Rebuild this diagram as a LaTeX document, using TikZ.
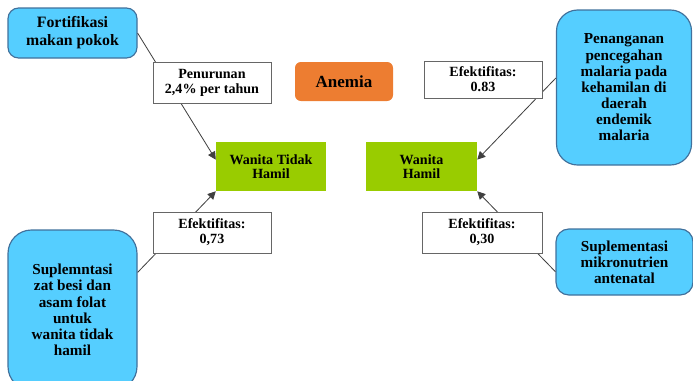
\documentclass[tikz,border=0pt]{standalone}
\usepackage{fontspec}
\setmainfont{Liberation Serif}
\usetikzlibrary{arrows.meta}
\definecolor{progblue}{RGB}{85,206,255}
\definecolor{progedge}{RGB}{65,113,156}
\definecolor{targetgreen}{RGB}{153,204,0}
\definecolor{anemiaorange}{RGB}{237,125,49}
\tikzset{
  basenode/.style = {align=center, inner sep=0pt, text centered},
  program/.style = {basenode, rectangle, fill=progblue, draw=progedge, line width=1pt, font=\bfseries\fontsize{13}{13.8}\selectfont},
  effect/.style = {basenode, rectangle, fill=white, draw=black!60, line width=0.8pt, minimum width=3.54cm, minimum height=1.23cm, font=\bfseries\fontsize{12}{12.8}\selectfont},
  target/.style = {basenode, rectangle, fill=targetgreen, minimum width=3.3cm, minimum height=1.47cm, font=\bfseries\fontsize{12}{12.2}\selectfont},
  link/.style = {draw=black!75, line width=0.7pt, -{Triangle[length=2.4mm,width=2.4mm]}},
}

\begin{document}
\begin{tikzpicture}
\useasboundingbox (0,0) rectangle (20.79,-11.4);
\clip (0,0) rectangle (20.79,-11.4);
% programs
\node [program, rounded corners=9pt, minimum width=3.87cm, minimum height=1.5cm, font=\bfseries\fontsize{13.5}{15.4}\selectfont] (fort) at (2.175,-0.99) {Fortifikasi\\makan pokok};
\node [program, rounded corners=20pt, minimum width=3.87cm, minimum height=4.8cm] (zatbesi) at (2.175,-9.3) {Suplemntasi\\zat besi dan\\asam folat\\untuk\\wanita tidak\\hamil};
\node [program, rounded corners=18pt, minimum width=4.05cm, minimum height=4.65cm] (malaria) at (18.72,-2.625) {Penanganan\\pencegahan\\malaria pada\\kehamilan di\\daerah\\endemik\\malaria};
\node [program, rounded corners=11pt, minimum width=4.11cm, minimum height=1.98cm] (mikro) at (18.735,-7.86) {Suplementasi\\mikronutrien\\antenatal};
% targets
\node [basenode, rounded corners=5pt, fill=anemiaorange, minimum width=2.94cm, minimum height=1.17cm, font=\bfseries\fontsize{14.5}{15}\selectfont] (anemia) at (10.32,-2.445) {Anemia};
\node [target] (tidakhamil) at (8.13,-4.995) {Wanita Tidak\\Hamil};
\node [target, minimum width=3.33cm] (hamil) at (12.645,-4.995) {Wanita\\Hamil};
% links, labels go on top
\draw [link] (fort.east) -- (tidakhamil.173);
\draw [link] (zatbesi.30) -- (tidakhamil.south west);
\draw [link] (malaria.172) -- (hamil.7);
\draw [link] (mikro.188) -- (hamil.south east);
\node [effect] (turun) at (6.36,-2.475) {Penurunan\\2,4\% per tahun};
\node [effect, minimum height=1.11cm] (ef083) at (14.49,-2.385) {Efektifitas:\\0.83};
\node [effect] (ef073) at (6.36,-6.975) {Efektifitas:\\0,73};
\node [effect, minimum width=3.6cm] (ef030) at (14.46,-6.975) {Efektifitas:\\0,30};
\end{tikzpicture}
\end{document}
